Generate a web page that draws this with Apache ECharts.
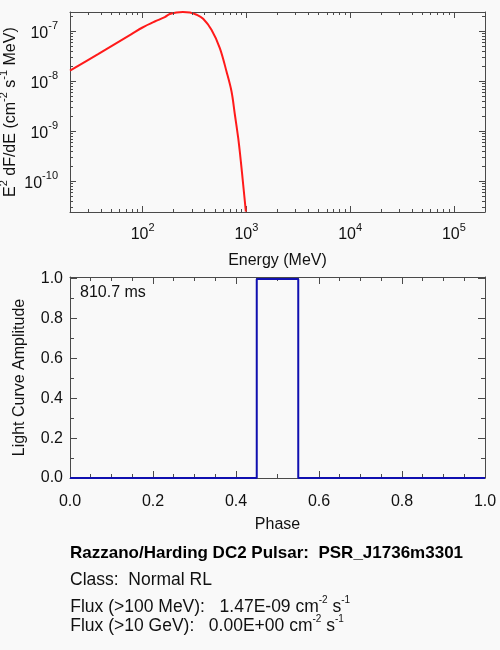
<!DOCTYPE html>
<html>
<head>
<meta charset="utf-8">
<script src="https://cdn.jsdelivr.net/npm/echarts@6/dist/echarts.min.js"></script>
<style>
html,body{margin:0;padding:0;background:#f9f9f9;}
#chart{width:500px;height:650px;}
</style>
</head>
<body>
<div id="chart"></div>
<script>
// ---- Spectrum (top panel) ----
const energyMeV = [20, 37.3, 78.3, 100, 131, 164, 183, 213, 245, 286, 332, 384, 462, 556, 645, 721, 777, 836, 887, 934, 991];
const spectrumE2dFdE = [1.64e-8, 3.53e-8, 8.87e-8, 1.2e-7, 1.58e-7, 1.94e-7, 2.23e-7, 2.40e-7, 2.45e-7, 2.40e-7, 2.16e-7, 1.79e-7, 1.08e-7, 4.66e-8, 1.58e-8, 6.3e-9, 2.16e-9, 7.4e-10, 2.5e-10, 8.6e-11, 2.5e-11];
const energyRange = [20, 2e5];
const fluxRange = [2.45e-11, 2.45e-7];
const logMinorMultipliers = [2, 3, 4, 5, 6, 7, 8, 9];
const energyDecades = [1, 2, 3, 4, 5];
const fluxDecades = [-11, -10, -9, -8, -7];

// ---- Light curve (bottom panel) ----
const phase = [0, 0.45, 0.45, 0.55, 0.55, 1.0];
const amplitude = [0, 0, 1, 1, 0, 0];
const phaseRange = [0, 1];
const amplitudeRange = [0, 1.01];
const phaseMajorTicks = [0.2, 0.4, 0.6, 0.8];
const phaseMinorTicks = [0.05, 0.1, 0.15, 0.25, 0.3, 0.35, 0.45, 0.5, 0.55, 0.65, 0.7, 0.75, 0.85, 0.9, 0.95];
const amplitudeMajorTicks = [0.2, 0.4, 0.6, 0.8, 1.0];
const amplitudeMinorTicks = [0.1, 0.3, 0.5, 0.7, 0.9];
const periodLabel = '810.7 ms';

// ---- Caption ----
const pulsarName = 'Razzano/Harding DC2 Pulsar:  PSR_J1736m3301';
const pulsarClass = 'Class:  Normal RL';
const flux100MeV = '1.47E-09';
const flux10GeV = '0.00E+00';

const FONT = '"Liberation Sans", Arial, Helvetica, sans-serif';
const FRAME = '#4a4a4a';
const TXT = '#111';

function minorValues(decades) {
  const out = [];
  decades.forEach(d => logMinorMultipliers.forEach(m => out.push(m * Math.pow(10, d))));
  return out;
}
const xMinor = minorValues(energyDecades).filter(v => v > energyRange[0] * 1.0001 && v < energyRange[1] * 0.9999);
const yMinor = minorValues(fluxDecades).filter(v => v > fluxRange[0] * 1.0001 && v < fluxRange[1] * 0.9999);

const supRich = {
  b: {fontSize: 16, lineHeight: 16, verticalAlign: 'bottom', fontFamily: FONT, color: TXT},
  e: {fontSize: 11, lineHeight: 11, verticalAlign: 'top', fontFamily: FONT, color: TXT},
  p: {fontSize: 1, lineHeight: 21, fontFamily: FONT}
};

function powLabel(v) {
  const ex = Math.log10(v);
  if (Math.abs(ex - Math.round(ex)) > 1e-6) return '';
  return '{p| }{b|10}{e|' + Math.round(ex) + '}';
}
function decLabel(v) {
  return Math.abs(v * 5 - Math.round(v * 5)) < 1e-6 ? v.toFixed(1) : '';
}

const crisp = c => Math.round(c - 0.5) + 0.5;
function tickLine(x1, y1, x2, y2) {
  return {type: 'line', shape: {x1: x1, y1: y1, x2: x2, y2: y2}, style: {stroke: FRAME, lineWidth: 1}};
}

// Ticks drawn on all four sides of a panel, through the panel's own axes
function tickSeries(xIdx, yIdx, values, dir, len, xr, yr) {
  return {
    type: 'custom', xAxisIndex: xIdx, yAxisIndex: yIdx, silent: true, clip: false, z: 6,
    data: values.map(v => dir === 'x' ? [v, yr[0] + (yr[1] - yr[0]) / 2] : [xr[0] + (xr[1] - xr[0]) / 2, v]),
    renderItem: function (params, api) {
      if (dir === 'x') {
        const v = api.value(0);
        const b = api.coord([v, yr[0]]);
        const t = api.coord([v, yr[1]]);
        const x = crisp(b[0]);
        return {type: 'group', children: [tickLine(x, b[1], x, b[1] - len), tickLine(x, t[1], x, t[1] + len)]};
      }
      const v = api.value(1);
      const l = api.coord([xr[0], v]);
      const r = api.coord([xr[1], v]);
      const y = crisp(l[1]);
      return {type: 'group', children: [tickLine(l[0], y, l[0] + len, y), tickLine(r[0], y, r[0] - len, y)]};
    }
  };
}

const chart = echarts.init(document.getElementById('chart'), null, {renderer: 'canvas'});

const commonLogX = {
  type: 'log', logBase: 10, gridIndex: 0, min: energyRange[0], max: energyRange[1],
  axisLine: {show: true, onZero: false, lineStyle: {color: FRAME, width: 1}},
  axisTick: {show: true, inside: true, length: 6, lineStyle: {color: FRAME, width: 1}},
  splitLine: {show: false}, minorTick: {show: false}, nameMoveOverlap: false
};
const commonLogY = {
  type: 'log', logBase: 10, gridIndex: 0, min: fluxRange[0], max: fluxRange[1],
  axisLine: {show: true, onZero: false, lineStyle: {color: FRAME, width: 1}},
  axisTick: {show: true, inside: true, length: 6, lineStyle: {color: FRAME, width: 1}},
  splitLine: {show: false}, minorTick: {show: false}, nameMoveOverlap: false
};
const commonLinX = {
  type: 'value', gridIndex: 1, min: phaseRange[0], max: phaseRange[1], splitNumber: 5,
  axisLine: {show: true, onZero: false, lineStyle: {color: FRAME, width: 1}},
  axisTick: {show: false}, minorTick: {show: false},
  splitLine: {show: false}, nameMoveOverlap: false
};
const commonLinY = {
  type: 'value', gridIndex: 1, min: amplitudeRange[0], max: amplitudeRange[1], splitNumber: 5,
  axisLine: {show: true, onZero: false, lineStyle: {color: FRAME, width: 1}},
  axisTick: {show: false}, minorTick: {show: false},
  splitLine: {show: false}, nameMoveOverlap: false
};

const capRich = {
  a: {fontSize: 17.5, lineHeight: 17, verticalAlign: 'bottom', fontFamily: FONT, fill: TXT, color: TXT},
  s: {fontSize: 10, lineHeight: 10, verticalAlign: 'top', fontFamily: FONT, fill: TXT, color: TXT},
  q: {fontSize: 1, lineHeight: 21}
};

const option = {
  backgroundColor: '#f9f9f9',
  animation: false,
  textStyle: {fontFamily: FONT},
  grid: [
    {left: 70, right: 15, top: 12, height: 200, outerBoundsMode: 'none', containLabel: false},
    {left: 70, right: 15, top: 277, height: 201, outerBoundsMode: 'none', containLabel: false}
  ],
  xAxis: [
    Object.assign({}, commonLogX, {
      position: 'bottom',
      axisLabel: {show: true, margin: 10, formatter: powLabel, rich: supRich},
      name: 'Energy (MeV)', nameLocation: 'middle', nameGap: 41,
      nameTextStyle: {fontSize: 16, color: TXT, fontFamily: FONT}
    }),
    Object.assign({}, commonLogX, {position: 'top', axisLabel: {show: false}}),
    Object.assign({}, commonLinX, {
      position: 'bottom',
      axisLabel: {show: true, margin: 16, fontSize: 16, color: TXT, fontFamily: FONT, formatter: decLabel},
      name: 'Phase', nameLocation: 'middle', nameGap: 39,
      nameTextStyle: {fontSize: 16, color: TXT, fontFamily: FONT}
    }),
    Object.assign({}, commonLinX, {position: 'top', axisLabel: {show: false}})
  ],
  yAxis: [
    Object.assign({}, commonLogY, {
      position: 'left',
      axisLabel: {show: true, margin: 12, formatter: powLabel, rich: supRich},
      name: '{b|E}{e|2}{b|\u00a0dF/dE (cm}{e|-2}{b|\u00a0s}{e|-1}{b|\u00a0MeV)}{p| }',
      nameLocation: 'middle', nameGap: 51, nameRotate: 90,
      nameTextStyle: {rich: supRich, fontSize: 16, color: TXT}
    }),
    Object.assign({}, commonLogY, {position: 'right', axisLabel: {show: false}}),
    Object.assign({}, commonLinY, {
      position: 'left',
      axisLabel: {show: true, margin: 7, fontSize: 16, color: TXT, fontFamily: FONT, formatter: decLabel},
      name: 'Light Curve Amplitude', nameLocation: 'middle', nameGap: 42,
      nameTextStyle: {fontSize: 16, color: TXT, fontFamily: FONT}
    }),
    Object.assign({}, commonLinY, {position: 'right', axisLabel: {show: false}})
  ],
  series: [
    {
      type: 'line', xAxisIndex: 0, yAxisIndex: 0,
      data: energyMeV.map((e, i) => [e, spectrumE2dFdE[i]]),
      showSymbol: false, smooth: 0.35, clip: false, z: 5,
      lineStyle: {color: '#ff1a1a', width: 2}
    },
    tickSeries(0, 0, xMinor, 'x', 3, energyRange, fluxRange),
    tickSeries(0, 0, yMinor, 'y', 3, energyRange, fluxRange),
    tickSeries(2, 2, phaseMajorTicks, 'x', 7, phaseRange, amplitudeRange),
    tickSeries(2, 2, phaseMinorTicks, 'x', 4, phaseRange, amplitudeRange),
    tickSeries(2, 2, amplitudeMajorTicks, 'y', 7, phaseRange, amplitudeRange),
    tickSeries(2, 2, amplitudeMinorTicks, 'y', 4, phaseRange, amplitudeRange),
    {
      type: 'line', xAxisIndex: 2, yAxisIndex: 2,
      data: phase.map((p, i) => [p, amplitude[i]]),
      showSymbol: false, clip: false, z: 7,
      lineStyle: {color: '#1010b0', width: 2}
    }
  ],
  graphic: [
    {type: 'text', left: 80, top: 285, style: {text: periodLabel, font: '16px ' + FONT, fill: TXT}},
    {type: 'text', left: 70, top: 545, style: {text: pulsarName, font: 'bold 17px ' + FONT, fill: '#000'}},
    {type: 'text', left: 70, top: 571, style: {text: pulsarClass, font: '17.5px ' + FONT, fill: TXT}},
    {type: 'text', left: 70, top: 595, style: {
      text: '{q| }{a|Flux (>100 MeV):   ' + flux100MeV + ' cm}{s|-2}{a| s}{s|-1}', rich: capRich}},
    {type: 'text', left: 70, top: 614, style: {
      text: '{q| }{a|Flux (>10 GeV):   ' + flux10GeV + ' cm}{s|-2}{a| s}{s|-1}', rich: capRich}}
  ]
};
chart.setOption(option);
</script>
</body>
</html>
